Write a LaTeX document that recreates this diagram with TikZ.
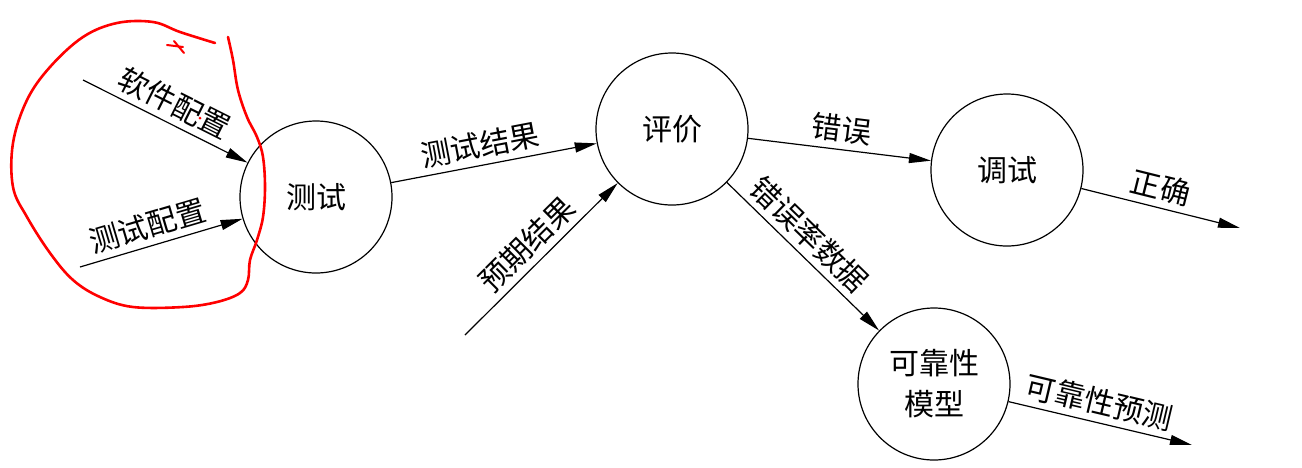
\documentclass[tikz,border=0pt]{standalone}
\usepackage{fontspec}
\newfontfamily\cjk{Noto Sans CJK SC}
\usetikzlibrary{arrows.meta, positioning}

\tikzset{
  proc/.style={draw, circle, line width=1.2pt, minimum size=152pt, inner sep=0pt,
    align=center, font=\cjk\fontsize{30}{41}\selectfont},
  flow/.style={-{Triangle[length=22pt, width=10pt]}, line width=1.2pt},
  lbl/.style={sloped, above=5pt, inner sep=1pt, font=\cjk\fontsize{30}{34}\selectfont},
  redink/.style={red, line width=2.6pt, line cap=round, line join=round},
}

\begin{document}
\begin{tikzpicture}[x=1pt, y=-1pt]
    \useasboundingbox (0,0) rectangle (1302,467);

    %% Processes
    \node[proc] (test) at (316,197) {测试};
    \node[proc] (eval) at (672,129) {评价};
    \node[proc] (debug) at (1007,170) {调试};
    \node[proc] (model) at (934,384) {可靠性\\模型};

    % Free ends
    \coordinate (swcfg) at (83,80);
    \coordinate (tcfg) at (80,267);
    \coordinate (expect) at (465,335);
    \coordinate (ok) at (1240,228);
    \coordinate (pred) at (1192,445);

    %% Flows
    \draw[flow] (swcfg) -- (test) node[midway, lbl] {软件配置};
    \draw[flow] (tcfg) -- (test) node[pos=0.45, lbl] {测试配置};
    \draw[flow] (test) -- (eval) node[pos=0.45, lbl] {测试结果};
    \draw[flow] (expect) -- (eval) node[midway, lbl] {预期结果};
    \draw[flow] (eval) -- (debug) node[midway, lbl] {错误};
    \draw[flow] (eval) -- (model) node[pos=0.45, lbl] {错误率数据};
    \draw[flow] (debug) -- (ok) node[pos=0.47, lbl] {正确};
    \draw[flow] (model) -- (pred) node[pos=0.47, lbl] {可靠性预测};

    %% Hand-drawn annotation
    \draw[redink] plot[smooth, tension=0.6] coordinates {(228,37) (233,60) (238,90) (247,117)
        (257,137) (263,157) (265,187) (263,217) (257,240) (250,260) (248,280) (240,293)
        (217,302) (183,307) (133,307) (100,297) (73,280) (50,253) (27,217) (13,187)
        (13,143) (27,100) (50,67) (83,37) (117,23) (153,22) (180,32) (215,43)};
    \draw[redink, line width=2pt] (167,45) -- (183,47);
    \draw[redink, line width=2pt] (174,41) -- (184,53);
    \fill[red] (200,118) circle (1.5);

\end{tikzpicture}
\end{document}
